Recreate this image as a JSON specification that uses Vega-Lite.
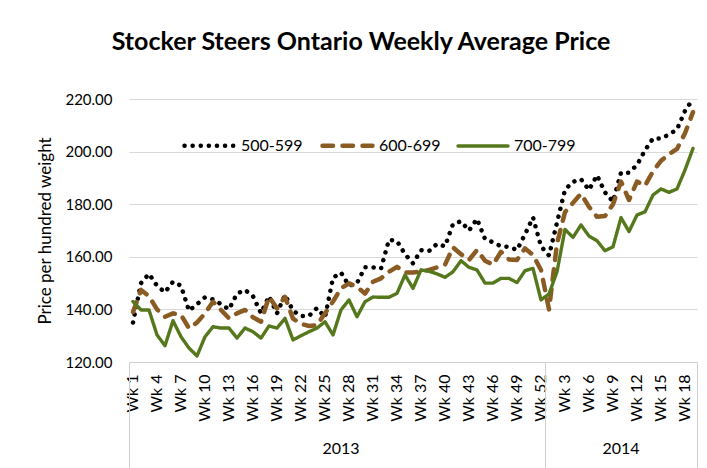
{
  "$schema": "https://vega.github.io/schema/vega-lite/v6.json",
  "width": 568,
  "height": 263,
  "autosize": "none",
  "padding": {"left": 129, "top": 99, "right": 10, "bottom": 106},
  "background": "white",
  "title": {"text": "Stocker Steers Ontario Weekly Average Price", "font": "Lato", "fontSize": 25, "fontWeight": "bold", "color": "#000000", "anchor": "middle", "frame": "group", "dx": -52, "offset": 37},
  "data": {"values": [
    {"week": "2013 Wk 1", "500-599": 135, "600-699": 139, "700-799": 143},
    {"week": "2013 Wk 2", "500-599": 150, "600-699": 147.4, "700-799": 139.8},
    {"week": "2013 Wk 3", "500-599": 153.5, "600-699": 145, "700-799": 139.8},
    {"week": "2013 Wk 4", "500-599": 149, "600-699": 140, "700-799": 130.3},
    {"week": "2013 Wk 5", "500-599": 146.5, "600-699": 137.2, "700-799": 126.2},
    {"week": "2013 Wk 6", "500-599": 150.5, "600-699": 138.5, "700-799": 135.7},
    {"week": "2013 Wk 7", "500-599": 149, "600-699": 137.9, "700-799": 129.6},
    {"week": "2013 Wk 8", "500-599": 139.5, "600-699": 132.8, "700-799": 125.3},
    {"week": "2013 Wk 9", "500-599": 142, "600-699": 135, "700-799": 122.3},
    {"week": "2013 Wk 10", "500-599": 144.6, "600-699": 138.5, "700-799": 129.6},
    {"week": "2013 Wk 11", "500-599": 143.8, "600-699": 142.9, "700-799": 133.4},
    {"week": "2013 Wk 12", "500-599": 142, "600-699": 139.8, "700-799": 132.9},
    {"week": "2013 Wk 13", "500-599": 140, "600-699": 136.6, "700-799": 132.9},
    {"week": "2013 Wk 14", "500-599": 146, "600-699": 138.5, "700-799": 129.1},
    {"week": "2013 Wk 15", "500-599": 147.4, "600-699": 139.8, "700-799": 132.9},
    {"week": "2013 Wk 16", "500-599": 145, "600-699": 137, "700-799": 131.5},
    {"week": "2013 Wk 17", "500-599": 138.5, "600-699": 135.3, "700-799": 129.1},
    {"week": "2013 Wk 18", "500-599": 145, "600-699": 144.8, "700-799": 133.7},
    {"week": "2013 Wk 19", "500-599": 138.5, "600-699": 140.4, "700-799": 132.9},
    {"week": "2013 Wk 20", "500-599": 145.5, "600-699": 144.8, "700-799": 136.6},
    {"week": "2013 Wk 21", "500-599": 139.5, "600-699": 136.5, "700-799": 128.4},
    {"week": "2013 Wk 22", "500-599": 137.5, "600-699": 134.5, "700-799": 130},
    {"week": "2013 Wk 23", "500-599": 137.5, "600-699": 133.7, "700-799": 131.5},
    {"week": "2013 Wk 24", "500-599": 140.5, "600-699": 134, "700-799": 132.9},
    {"week": "2013 Wk 25", "500-599": 137, "600-699": 138.5, "700-799": 135.3},
    {"week": "2013 Wk 26", "500-599": 152, "600-699": 143, "700-799": 130.3},
    {"week": "2013 Wk 27", "500-599": 154, "600-699": 148, "700-799": 139.8},
    {"week": "2013 Wk 28", "500-599": 149, "600-699": 149.9, "700-799": 143.6},
    {"week": "2013 Wk 29", "500-599": 150, "600-699": 148.6, "700-799": 137.2},
    {"week": "2013 Wk 30", "500-599": 156, "600-699": 146, "700-799": 142.9},
    {"week": "2013 Wk 31", "500-599": 156, "600-699": 150.5, "700-799": 144.7},
    {"week": "2013 Wk 32", "500-599": 155.5, "600-699": 151.8, "700-799": 144.6},
    {"week": "2013 Wk 33", "500-599": 166.5, "600-699": 154.3, "700-799": 144.6},
    {"week": "2013 Wk 34", "500-599": 166, "600-699": 156.2, "700-799": 146.1},
    {"week": "2013 Wk 35", "500-599": 161, "600-699": 154, "700-799": 153.1},
    {"week": "2013 Wk 36", "500-599": 157.5, "600-699": 154, "700-799": 148},
    {"week": "2013 Wk 37", "500-599": 162.5, "600-699": 154.5, "700-799": 155},
    {"week": "2013 Wk 38", "500-599": 162.2, "600-699": 155, "700-799": 154.5},
    {"week": "2013 Wk 39", "500-599": 164.9, "600-699": 156, "700-799": 153.5},
    {"week": "2013 Wk 40", "500-599": 164, "600-699": 157, "700-799": 152.2},
    {"week": "2013 Wk 41", "500-599": 172.5, "600-699": 163.6, "700-799": 154.3},
    {"week": "2013 Wk 42", "500-599": 173.5, "600-699": 161, "700-799": 158.5},
    {"week": "2013 Wk 43", "500-599": 170, "600-699": 158.8, "700-799": 156},
    {"week": "2013 Wk 44", "500-599": 174.4, "600-699": 162.6, "700-799": 155},
    {"week": "2013 Wk 45", "500-599": 166.8, "600-699": 158.5, "700-799": 150},
    {"week": "2013 Wk 46", "500-599": 165.5, "600-699": 157, "700-799": 150},
    {"week": "2013 Wk 47", "500-599": 164, "600-699": 161.9, "700-799": 151.8},
    {"week": "2013 Wk 48", "500-599": 163.8, "600-699": 159, "700-799": 151.8},
    {"week": "2013 Wk 49", "500-599": 162.6, "600-699": 158.8, "700-799": 150.2},
    {"week": "2013 Wk 50", "500-599": 168.5, "600-699": 163.2, "700-799": 154.7},
    {"week": "2013 Wk 51", "500-599": 175, "600-699": 160.7, "700-799": 155.6},
    {"week": "2013 Wk 52", "500-599": 164, "600-699": 155, "700-799": 143.6},
    {"week": "2014 Wk 1", "500-599": 160.5, "600-699": 140, "700-799": 145.9},
    {"week": "2014 Wk 2", "500-599": 173, "600-699": 165, "700-799": 154.3},
    {"week": "2014 Wk 3", "500-599": 185.5, "600-699": 177, "700-799": 170.4},
    {"week": "2014 Wk 4", "500-599": 188.5, "600-699": 180.5, "700-799": 167.4},
    {"week": "2014 Wk 5", "500-599": 189.5, "600-699": 184, "700-799": 172.1},
    {"week": "2014 Wk 6", "500-599": 185.4, "600-699": 179, "700-799": 167.9},
    {"week": "2014 Wk 7", "500-599": 191, "600-699": 175.2, "700-799": 166.1},
    {"week": "2014 Wk 8", "500-599": 184.5, "600-699": 175.5, "700-799": 162.3},
    {"week": "2014 Wk 9", "500-599": 181, "600-699": 180, "700-799": 163.8},
    {"week": "2014 Wk 10", "500-599": 192, "600-699": 188.6, "700-799": 174.9},
    {"week": "2014 Wk 11", "500-599": 192, "600-699": 181.6, "700-799": 169.6},
    {"week": "2014 Wk 12", "500-599": 194.9, "600-699": 188.6, "700-799": 175.9},
    {"week": "2014 Wk 13", "500-599": 200.5, "600-699": 187, "700-799": 177.1},
    {"week": "2014 Wk 14", "500-599": 205, "600-699": 192.5, "700-799": 183.5},
    {"week": "2014 Wk 15", "500-599": 205, "600-699": 196.5, "700-799": 185.8},
    {"week": "2014 Wk 16", "500-599": 206.5, "600-699": 199, "700-799": 184.5},
    {"week": "2014 Wk 17", "500-599": 208.4, "600-699": 201, "700-799": 185.8},
    {"week": "2014 Wk 18", "500-599": 215.5, "600-699": 207, "700-799": 193},
    {"week": "2014 Wk 19", "500-599": 220, "600-699": 215, "700-799": 201.2}
  ]},
  "transform": [{"fold": ["500-599", "600-699", "700-799"], "as": ["series", "price"]}],
  "layer": [
    {
      "mark": {"type": "line", "strokeCap": "round", "strokeJoin": "round"},
      "encoding": {
        "x": {"field": "week", "type": "ordinal", "sort": null,
          "scale": {"type": "band", "paddingInner": 0, "paddingOuter": 0},
          "axis": {"orient": "bottom", "title": null, "labelAngle": -90, "labelFont": "Lato", "labelFontSize": 16, "labelColor": "#000000", "labelPadding": 12, "ticks": false, "domain": true, "domainColor": "#d0d0d0", "domainWidth": 1, "grid": false, "labelOverlap": false, "bandPosition": 0.5,
            "labelExpr": "((slice(datum.value,0,4)=='2013' && toNumber(slice(datum.value,8))%3==1) || (slice(datum.value,0,4)=='2014' && toNumber(slice(datum.value,8))%3==0)) ? slice(datum.value,5) : ''"}},
        "y": {"field": "price", "type": "quantitative",
          "scale": {"domain": [120, 220], "nice": false, "zero": false},
          "axis": {"title": "Price per hundred weight", "titleFont": "Lato", "titleFontSize": 17, "titleFontWeight": "normal", "titleColor": "#000000", "titlePadding": 10, "labelFont": "Lato", "labelFontSize": 15, "labelColor": "#000000", "labelPadding": 17, "ticks": false, "domain": false, "grid": true, "gridColor": "#d9d9d9", "gridWidth": 1, "values": [120, 140, 160, 180, 200, 220], "format": ".2f"}},
        "color": {"field": "series", "type": "nominal",
          "scale": {"domain": ["500-599", "600-699", "700-799"], "range": ["#000000", "#8a5b22", "#55781c"]},
          "legend": {"title": null, "orient": "none", "legendX": 53, "legendY": 19, "direction": "horizontal", "labelFont": "Lato", "labelFontSize": 16, "labelColor": "#000000", "symbolType": "stroke", "symbolSize": 2500, "columnPadding": 10, "labelOffset": 4,
            "encode": {"symbols": {"update": {"strokeCap": {"value": "round"}}}}}},
        "strokeDash": {"field": "series", "type": "nominal",
          "scale": {"domain": ["500-599", "600-699", "700-799"], "range": [[0.1, 8], [10.5, 9.5], [1, 0]]}},
        "strokeWidth": {"field": "series", "type": "nominal",
          "scale": {"type": "ordinal", "domain": ["500-599", "600-699", "700-799"], "range": [4.5, 4.5, 3.4]}}
      }
    },
    {
      "mark": {"type": "rule", "opacity": 0},
      "encoding": {
        "x": {"field": "week", "type": "ordinal", "sort": null,
          "axis": {"orient": "bottom", "title": null, "values": ["2013 Wk 27", "2014 Wk 10"], "labelExpr": "slice(datum.value,0,4)", "labelAngle": 0, "labelFont": "Lato", "labelFontSize": 16, "labelColor": "#000000", "labelPadding": 78, "ticks": false, "domain": false, "grid": false, "bandPosition": 0.5}}
      }
    },
    {
      "mark": {"type": "rule", "opacity": 0},
      "encoding": {
        "x": {"field": "week", "type": "ordinal", "sort": null,
          "axis": {"orient": "bottom", "title": null, "values": ["2013 Wk 1", "2014 Wk 1"], "labels": false, "domain": false, "grid": false, "ticks": true, "tickSize": 106, "tickColor": "#d0d0d0", "tickWidth": 1, "bandPosition": 0}}
      }
    },
    {
      "mark": {"type": "rule", "opacity": 0},
      "encoding": {
        "x": {"field": "week", "type": "ordinal", "sort": null,
          "axis": {"orient": "bottom", "title": null, "values": ["2014 Wk 19"], "labels": false, "domain": false, "grid": false, "ticks": true, "tickSize": 106, "tickColor": "#d0d0d0", "tickWidth": 1, "bandPosition": 1}}
      }
    }
  ],
  "resolve": {"axis": {"x": "independent"}},
  "config": {"view": {"stroke": null}, "font": "Lato"}
}
